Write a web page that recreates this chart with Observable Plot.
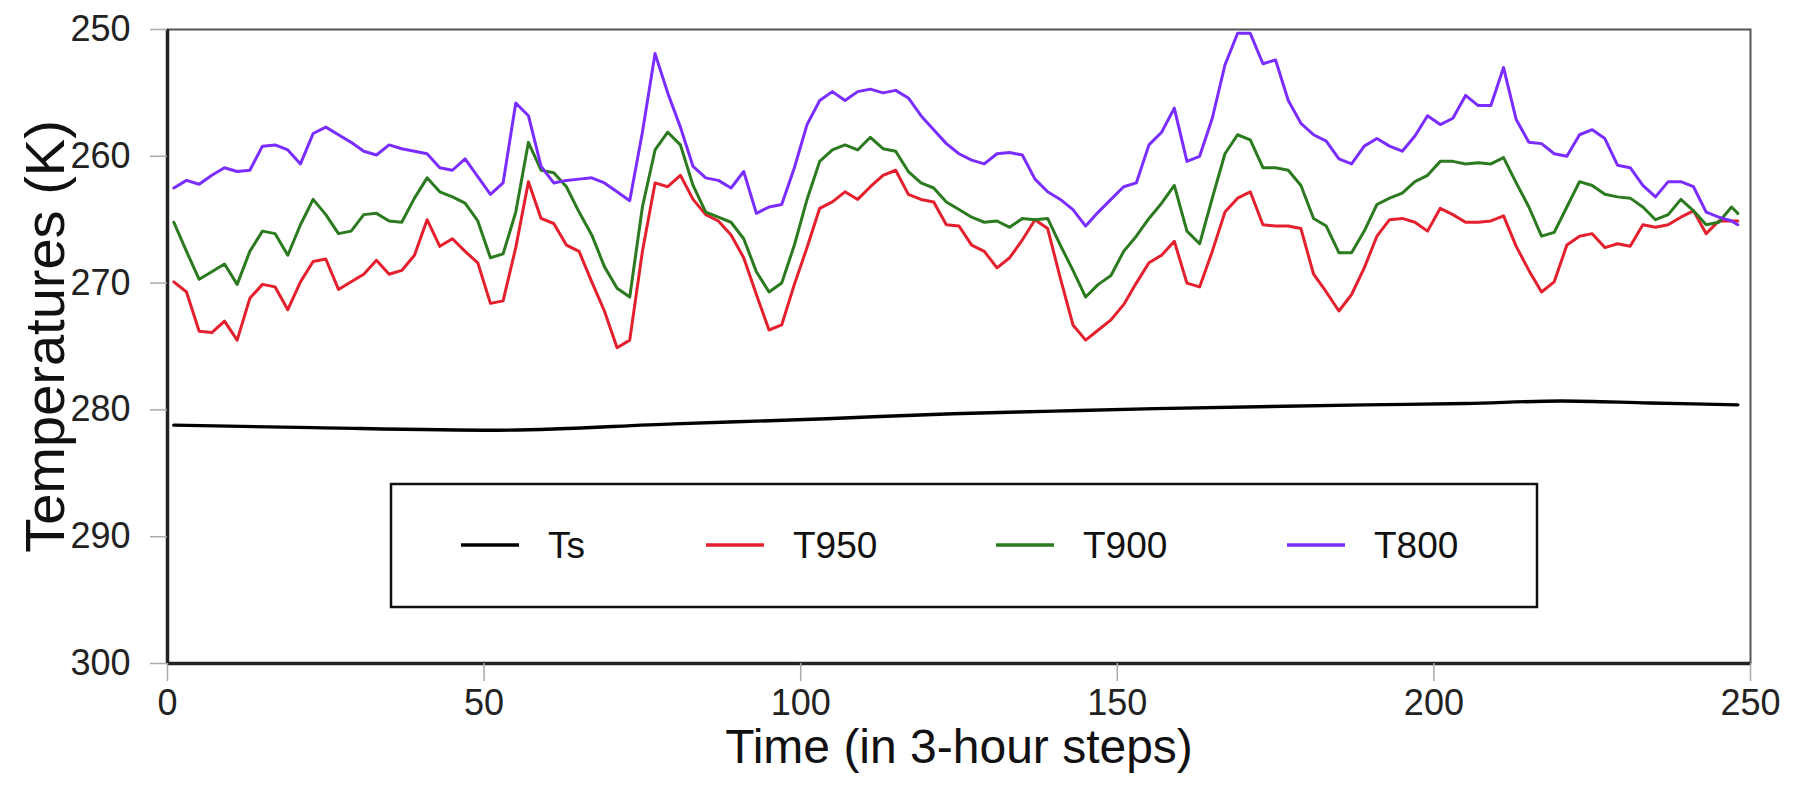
<!DOCTYPE html>
<html><head><meta charset="utf-8">
<script src="https://cdn.jsdelivr.net/npm/d3@7"></script>
<script src="https://cdn.jsdelivr.net/npm/@observablehq/plot@0.6"></script>
<style>
html,body{margin:0;padding:0;background:#fff;}
#chart{width:1800px;height:787px;overflow:hidden;}
</style></head><body><div id="chart"></div>
<script>
// Time steps (3-hour steps) at which the upper-level series are sampled
const time = [1,3,5,7,9,11,13,15,17,19,21,23,25,27,29,31,33,35,37,39,41,43,45,47,49,51,53,55,57,59,61,63,65,67,69,71,73,75,77,79,81,83,85,87,89,91,93,95,97,99,101,103,105,107,109,111,113,115,117,119,121,123,125,127,129,131,133,135,137,139,141,143,145,147,149,151,153,155,157,159,161,163,165,167,169,171,173,175,177,179,181,183,185,187,189,191,193,195,197,199,201,203,205,207,209,211,213,215,217,219,221,223,225,227,229,231,233,235,237,239,241,243,245,247,248];

const t950 = [269.9,270.7,273.8,273.9,273.0,274.5,271.2,270.1,270.3,272.1,269.9,268.3,268.1,270.5,269.9,269.3,268.2,269.3,269.0,267.8,265.0,267.1,266.5,267.5,268.4,271.6,271.4,267.2,262.0,264.9,265.3,267.0,267.5,269.9,272.2,275.1,274.5,267.5,262.1,262.4,261.5,263.4,264.6,265.1,266.2,268.0,270.9,273.7,273.3,270.1,267.2,264.1,263.6,262.8,263.4,262.4,261.5,261.1,263.0,263.4,263.6,265.4,265.5,267.0,267.5,268.8,268.0,266.6,265.0,265.7,269.6,273.3,274.5,273.7,272.9,271.7,270.0,268.4,267.8,266.7,270.0,270.3,267.5,264.4,263.3,262.8,265.4,265.5,265.5,265.7,269.3,270.7,272.2,270.9,268.8,266.3,265.0,264.9,265.2,265.9,264.1,264.6,265.2,265.2,265.1,264.7,267.1,269.0,270.7,269.9,267.0,266.3,266.1,267.2,266.9,267.1,265.4,265.6,265.4,264.8,264.3,266.1,265.1,265.1,265.1];

const t900 = [265.2,267.5,269.7,269.1,268.5,270.1,267.5,265.9,266.1,267.8,265.4,263.4,264.6,266.1,265.9,264.6,264.5,265.1,265.2,263.3,261.7,262.8,263.2,263.7,265.1,268.0,267.7,264.4,258.9,261.1,261.3,262.4,264.4,266.2,268.7,270.4,271.1,264.0,259.5,258.1,259.1,262.3,264.4,264.8,265.2,266.5,269.1,270.7,270.0,267.0,263.4,260.4,259.5,259.1,259.5,258.5,259.4,259.6,261.2,262.1,262.5,263.6,264.2,264.8,265.2,265.1,265.6,264.9,265.0,264.9,267.0,269.0,271.1,270.1,269.4,267.5,266.3,264.9,263.7,262.3,265.9,266.9,263.3,259.8,258.3,258.7,260.9,260.9,261.1,262.3,264.9,265.5,267.6,267.6,265.9,263.8,263.3,262.9,262.0,261.5,260.4,260.4,260.6,260.5,260.6,260.1,262.1,264.0,266.3,266.0,264.0,262.0,262.3,263.0,263.2,263.3,264.0,265.0,264.6,263.4,264.3,265.4,265.2,264.0,264.5];

const t800 = [262.5,261.9,262.2,261.5,260.9,261.2,261.1,259.2,259.1,259.5,260.6,258.2,257.7,258.3,258.9,259.6,259.9,259.1,259.4,259.6,259.8,260.9,261.1,260.2,261.6,263.0,262.1,255.8,256.8,260.8,262.1,261.9,261.8,261.7,262.1,262.8,263.5,258.1,251.9,255.0,257.7,260.8,261.7,261.9,262.5,261.2,264.5,264.0,263.8,260.9,257.5,255.6,254.9,255.6,254.9,254.7,255.0,254.8,255.4,256.8,257.9,259.0,259.8,260.3,260.6,259.8,259.7,259.9,261.8,262.8,263.4,264.2,265.5,264.4,263.4,262.4,262.1,259.1,258.1,256.2,260.4,260.0,257.0,252.8,250.3,250.3,252.7,252.4,255.6,257.4,258.3,258.8,260.2,260.6,259.2,258.6,259.2,259.6,258.4,256.8,257.5,257.0,255.2,256.0,256.0,253.0,257.1,258.9,259.0,259.8,260.0,258.3,257.9,258.6,260.7,260.9,262.3,263.2,262.0,262.0,262.4,264.4,264.8,265.1,265.4];

// Surface temperature (smooth)
const tsTime = [1,23,52,80,104,124,140,156,189,205,220,234,248];
const tsValues = [281.2,281.4,281.6,281.1,280.7,280.3,280.1,279.9,279.6,279.5,279.3,279.45,279.6];

const xTicks = [0,50,100,150,200,250];
const yTicks = [250,260,270,280,290,300];
const seriesNames = ["Ts","T950","T900","T800"];
const seriesColors = ["#000000","#e5202e","#2b7a1f","#7b2dff"];
const xTitle = "Time (in 3-hour steps)";
const yTitle = "Temperatures (K)";

const upper = [
  ...time.map((t,i)=>({t, v:t950[i], s:"T950"})),
  ...time.map((t,i)=>({t, v:t900[i], s:"T900"})),
  ...time.map((t,i)=>({t, v:t800[i], s:"T800"}))
];
const surface = tsTime.map((t,i)=>({t, v:tsValues[i], s:"Ts"}));

const FONT = "'Liberation Sans', Arial, Helvetica, sans-serif";

const chart = Plot.plot({
  width: 1800,
  height: 787,
  marginLeft: 167,
  marginRight: 50,
  marginTop: 29,
  marginBottom: 124,
  style: {fontFamily: FONT, background: "#fff", overflow: "visible"},
  x: {domain: [0, 250], ticks: xTicks, label: null},
  y: {domain: [250, 300], reverse: true, ticks: yTicks, label: null},
  color: {domain: seriesNames, range: seriesColors},
  marks: [
    Plot.lineY(surface, {x: "t", y: "v", stroke: "s", strokeWidth: 3.4, curve: "monotone-x"}),
    Plot.lineY(upper, {x: "t", y: "v", stroke: "s", z: "s", strokeWidth: 3, strokeLinejoin: "round"}),
    Plot.frame({stroke: "#555", strokeWidth: 2}),
    Plot.ruleX([0], {stroke: "#222", strokeWidth: 3.5}),
    Plot.ruleY([300], {stroke: "#222", strokeWidth: 3.5}),
    Plot.axisX({ticks: xTicks, tickSize: 18, tickPadding: 8, fontSize: 36, stroke: "#aaa", strokeWidth: 1.5, fill: "#222", label: null}),
    Plot.axisY({ticks: yTicks, tickSize: 17, tickPadding: 20, fontSize: 36, stroke: "#aaa", strokeWidth: 1.5, fill: "#222", label: null}),
    Plot.text([xTitle], {frameAnchor: "bottom", dy: 84, lineAnchor: "middle", fontSize: 48, fill: "#111"}),
    Plot.text([yTitle], {frameAnchor: "left", textAnchor: "middle", dx: -121, dy: -10, rotate: -90, lineAnchor: "middle", fontSize: 56, fill: "#111"})
  ]
});

document.getElementById("chart").appendChild(chart);

// Legend box drawn inside the plot area
const svg = d3.select(chart);
const lg = svg.append("g").attr("class", "legend").style("font-family", FONT);
lg.append("rect").attr("x", 391).attr("y", 484).attr("width", 1146).attr("height", 123)
  .attr("fill", "#fff").attr("stroke", "#111").attr("stroke-width", 2.5);
const legendX = [461, 706, 996, 1287];
seriesNames.forEach((name, i) => {
  const x0 = legendX[i];
  lg.append("line").attr("x1", x0).attr("x2", x0 + 58).attr("y1", 545).attr("y2", 545)
    .attr("stroke", seriesColors[i]).attr("stroke-width", 3.5);
  lg.append("text").attr("x", x0 + 87).attr("y", 545).attr("dy", "0.35em")
    .attr("text-anchor", "start")
    .attr("font-size", 37).attr("fill", "#111").text(name);
});
</script></body></html>
